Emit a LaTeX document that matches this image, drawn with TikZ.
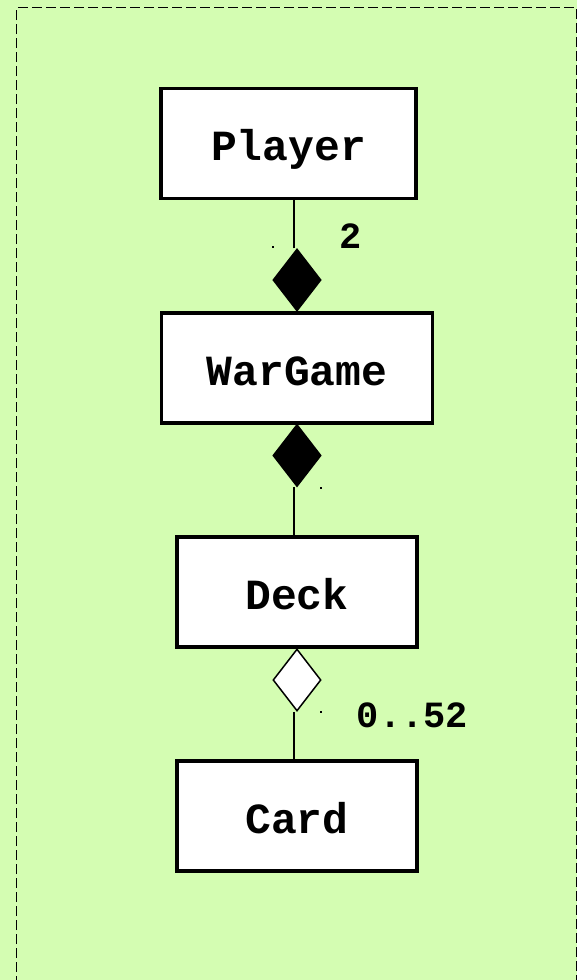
\documentclass[tikz,border=0pt]{standalone}
\usepackage{fontspec}
\setmonofont{Liberation Mono}
\usetikzlibrary{shapes.geometric}

\definecolor{sheet}{RGB}{212,253,178}

\tikzset{
	classbox/.style={draw,line width=3.5pt,fill=white,inner sep=0pt,
		minimum width=255pt,minimum height=110pt,
		text height=34pt,text depth=0pt,
		font=\fontsize{43}{50}\ttfamily\bfseries},
	comp/.style={diamond,draw,line width=1.5pt,fill=black,inner sep=0pt,
		minimum width=48pt,minimum height=62pt},
	aggr/.style={comp,fill=white},
	link/.style={line width=2pt},
	mult/.style={font=\fontsize{37}{44}\ttfamily\bfseries,inner sep=0pt},
	tick/.style={fill=black,inner sep=0pt,minimum size=2pt}
}

\begin{document}
\begin{tikzpicture}[x=1pt,y=-1pt]
	% sheet
	\fill[sheet] (0,0) rectangle (577,980);
	\useasboundingbox (0,0) rectangle (577,980);
	\draw[line width=1.8pt,dash pattern=on 10pt off 4pt] (16.5,1000) |- (576.5,7.5) -- (576.5,1000);

	% classes
	\node[classbox] (player) at (288.5,143.5) {Player};
	\node[classbox,minimum width=271pt] (wargame) at (297,368) {WarGame};
	\node[classbox,minimum width=240pt] (deck) at (297,592) {Deck};
	\node[classbox,minimum width=240pt] (card) at (297,816) {Card};

	% diamonds
	\node[comp] (d1) at (297,280) {};
	\node[comp] (d2) at (297,455.5) {};
	\node[aggr] (d3) at (297,680) {};

	% draw lines
	\draw[link] ([xshift=-3pt]d1.north) -- ([xshift=-3pt]d1.north |- player.south);
	\draw[link] ([xshift=-3pt]d2.south) -- ([xshift=-3pt]d2.south |- deck.north);
	\draw[link] ([xshift=-3pt]d3.south) -- ([xshift=-3pt]d3.south |- card.north);

	% multiplicities
	\node[mult] (m1) at (351,236) {2};
	\node[mult] (m3) at (412.5,715) {0..52};

	% end marks
	\node[tick] (t1) at (273,247) {};
	\node[tick] (t2) at (321,487.5) {};
	\node[tick] (t3) at (321,712) {};
\end{tikzpicture}
\end{document}
